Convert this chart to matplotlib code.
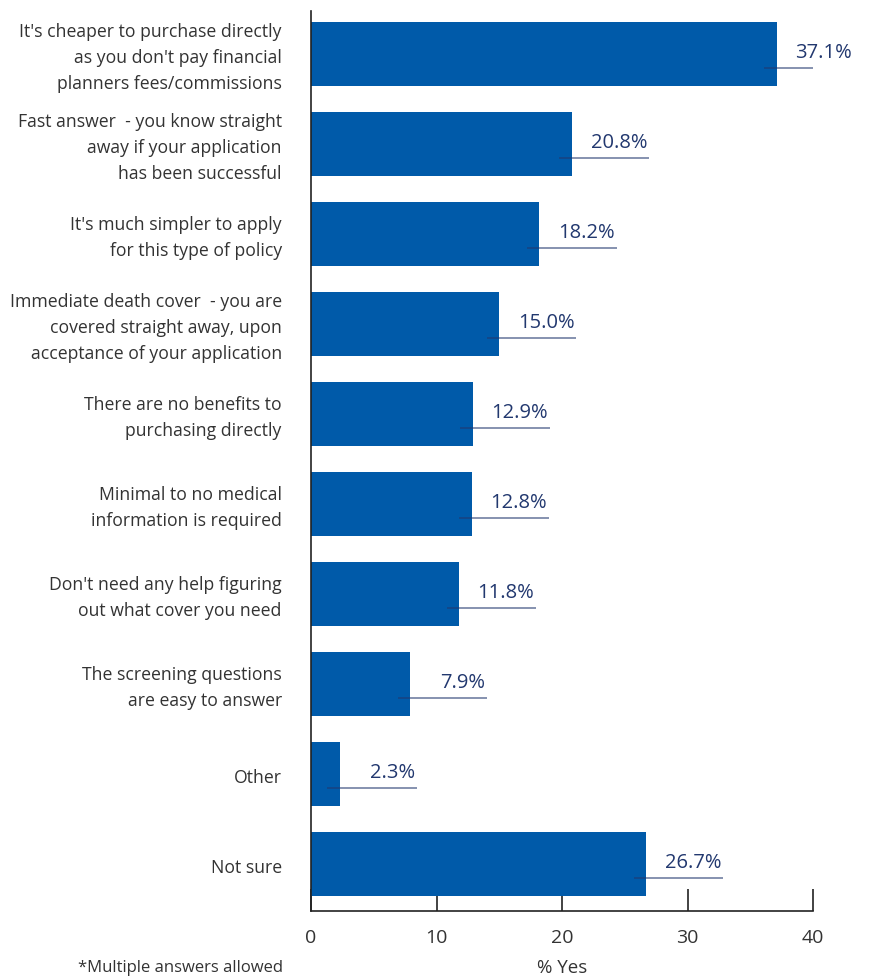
import numpy as np
import matplotlib.pyplot as plt
import matplotlib.transforms as mtransforms

# Data
categories = [
    "It's cheaper to purchase directly\nas you don't pay financial\nplanners fees/commissions",
    "Fast answer  - you know straight\naway if your application\nhas been successful",
    "It's much simpler to apply\nfor this type of policy",
    "Immediate death cover  - you are\ncovered straight away, upon\nacceptance of your application",
    "There are no benefits to\npurchasing directly",
    "Minimal to no medical\ninformation is required",
    "Don't need any help figuring\nout what cover you need",
    "The screening questions\nare easy to answer",
    "Other",
    "Not sure",
]
values = [37.1, 20.8, 18.2, 15.0, 12.9, 12.8, 11.8, 7.9, 2.3, 26.7]
xticks = [0, 10, 20, 30, 40]

plt.rcParams['font.family'] = ['Open Sans', 'DejaVu Sans']

bar_color = '#005aa9'
navy = '#22386f'
text_gray = '#333333'

fig = plt.figure(figsize=(8.69, 9.78), dpi=100)
ax = fig.add_axes([311/869, 1 - 912/978, (813 - 311)/869, (912 - 12)/978])

y = np.arange(len(values))
ax.barh(y, values, height=0.72, color=bar_color, zorder=2)

ax.set_xlim(0, 40)
ax.set_ylim(len(values) - 0.478, -0.478)
ax.set_xticks(xticks)
ax.set_yticks(y)
ax.set_yticklabels(categories, fontsize=12.7, color=text_gray, linespacing=1.55,
                   va='center')
ax.tick_params(axis='y', length=0, pad=21)
ax.tick_params(axis='x', direction='in', length=16, width=1.2, color='#222222',
               labelsize=14, labelcolor=text_gray, pad=12)

# nudge category labels down a touch
shift = mtransforms.ScaledTranslation(0, -3/100, fig.dpi_scale_trans)
for lbl in ax.get_yticklabels():
    lbl.set_transform(lbl.get_transform() + shift)

for s in ['top', 'right']:
    ax.spines[s].set_visible(False)
for s in ['left', 'bottom']:
    ax.spines[s].set_color('#222222')
    ax.spines[s].set_linewidth(1.2)

# value labels with underline
for yi, v in zip(y, values):
    ax.plot([v - 1.0, v + 6.15], [yi + 0.15, yi + 0.15], color=navy, alpha=0.55,
            lw=1.4, zorder=3, solid_capstyle='butt')
    ax.text(v + 6.0, yi + 0.09, f"{v:.1f}%", ha='right', va='bottom',
            fontsize=14.5, color=navy, zorder=4)

ax.set_xlabel("% Yes", fontsize=13.5, color=text_gray, labelpad=9)
fig.text(283/869, 1 - 968/978, "*Multiple answers allowed", ha='right', va='center',
         fontsize=12, color=text_gray)

fig.savefig("out.png", dpi=100)
